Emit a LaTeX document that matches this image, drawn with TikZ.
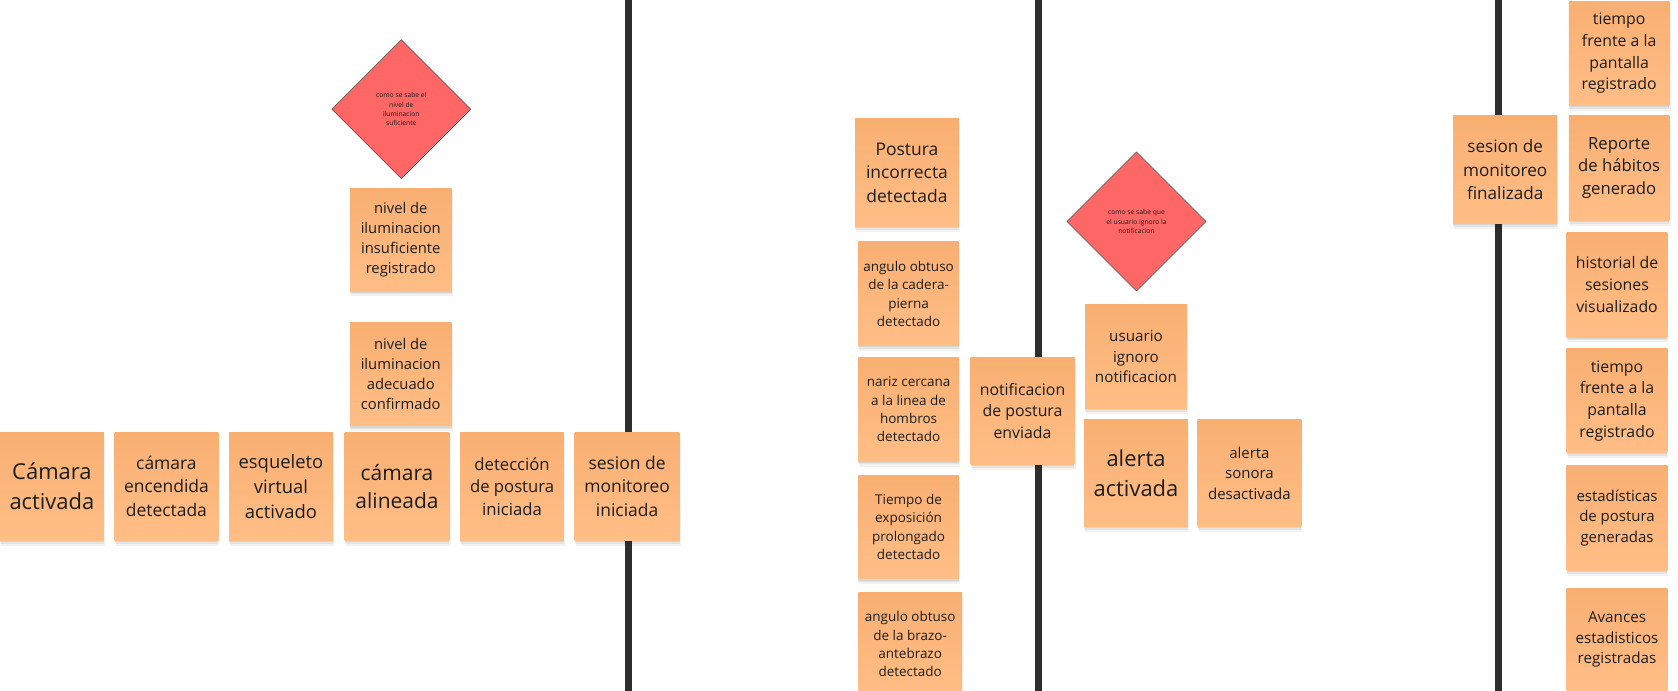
\documentclass[tikz,border=0pt]{standalone}
\usepackage{fontspec}
\setmainfont{Open Sans}
\usetikzlibrary{shapes.geometric}
\definecolor{stickytop}{HTML}{F9AF72}
\definecolor{stickybot}{HTML}{FFBE86}
\definecolor{ink}{HTML}{1C1C1C}
\definecolor{lane}{HTML}{2E2E2E}
\definecolor{qred}{HTML}{FF6666}
\tikzset{
  sticky/.style={rectangle, inner sep=0pt, top color=stickytop, bottom color=stickybot,
    draw=none, text=ink, align=center, minimum width=96pt, minimum height=98pt,
    preaction={fill=black, fill opacity=0.05, transform canvas={xshift=1pt, yshift=-5pt}},
    preaction={fill=black, fill opacity=0.06, transform canvas={yshift=-3pt}},
    preaction={fill=black, fill opacity=0.06, transform canvas={yshift=-1.5pt}}},
  sz/.style 2 args={minimum width=#1pt, minimum height=#2pt},
  fbig/.style={font=\fontsize{20.5}{28}\selectfont},
  fmed/.style={font=\fontsize{16.3}{22.3}\selectfont},
  fmid/.style={font=\fontsize{14.8}{20.2}\selectfont},
  fsml/.style={font=\fontsize{12.6}{17.2}\selectfont},
  question/.style={diamond, aspect=1, draw=black!70, line width=0.5pt, fill=qred,
    inner sep=0pt, minimum width=130pt, minimum height=130pt, align=center, text=ink,
    font=\fontsize{6.3}{8.6}\selectfont},
  lanebar/.style={draw=lane, line width=6.5pt}
}
\begin{document}
\begin{tikzpicture}[x=1pt,y=-1pt]
\useasboundingbox (0,0) rectangle (1568,645);
\fill[white] (0,0) rectangle (1568,645);
% swimlane dividers
\coordinate (l1t) at (587,-5); \coordinate (l1b) at (587,650);
\coordinate (l2t) at (970,-5); \coordinate (l2b) at (970,650);
\coordinate (l3t) at (1400,-5); \coordinate (l3b) at (1400,650);
\draw[lanebar] (l1t) -- (l1b);
\draw[lanebar] (l2t) -- (l2b);
\draw[lanebar] (l3t) -- (l3b);

% bottom row
\node[sticky, sz={97}{101}, fbig] (cam) at (48.5,454.5) {Cámara\\activada};
\node[sticky, sz={97}{101}, fmed] (camenc) at (155.5,454.5) {cámara\\encendida\\detectada};
\node[sticky, sz={97}{101}, font=\fontsize{17.2}{23.6}\selectfont] (esq) at (262.5,454.5) {esqueleto\\virtual\\activado};
\node[sticky, sz={98}{101}, font=\fontsize{19.6}{26.6}\selectfont] (camal) at (371,454.5) {cámara\\alineada};
\node[sticky, sz={97}{101}, font=\fontsize{15.6}{21.2}\selectfont] (det) at (478.5,454.5) {detección\\de postura\\iniciada};
\node[sticky, sz={98}{101}, fmed] (sesini) at (586,454.5) {sesion de\\monitoreo\\iniciada};

% lighting question
\node[question] (q1) at (375,102) {como se sabe el\\nivel de\\iluminacion\\suficiente};
\node[sticky, sz={95}{96}, font=\fontsize{13.8}{18.8}\selectfont] (insuf) at (374.5,224) {nivel de\\iluminacion\\insuficiente\\registrado};
\node[sticky, sz={95}{97}, font=\fontsize{13.8}{18.8}\selectfont] (adec) at (374.5,349.5) {nivel de\\iluminacion\\adecuado\\confirmado};

% posture detection lane
\node[sticky, sz={97}{101}, fmed] (post) at (847.5,161.5) {Postura\\incorrecta\\detectada};
\node[sticky, sz={94}{97}, fsml] (cadera) at (849,274.5) {angulo obtuso\\de la cadera-\\pierna\\detectado};
\node[sticky, sz={94}{97}, fsml] (nariz) at (849,382.5) {nariz cercana\\a la linea de\\hombros\\detectado};
\node[sticky, sz={94}{97}, fsml] (expo) at (849,492.5) {Tiempo de\\exposición\\prolongado\\detectado};
\node[sticky, sz={97}{96}, fsml] (brazo) at (850.5,602) {angulo obtuso\\de la brazo-\\antebrazo\\detectado};
\node[sticky, sz={97}{100}, fmid] (notif) at (955.5,384) {notificacion\\de postura\\enviada};

% notification lane
\node[question] (q2) at (1062,207) {como se sabe que\\el usuario ignoro la\\notificacion};
\node[sticky, sz={95}{97}, font=\fontsize{14.2}{19.2}\selectfont] (ignoro) at (1061.5,333.5) {usuario\\ignoro\\notificacion};
\node[sticky, sz={97}{100}, fbig] (alerta) at (1061.5,442) {alerta\\activada};
\node[sticky, sz={97}{100}, font=\fontsize{14}{19.2}\selectfont] (sonora) at (1167.5,442) {alerta\\sonora\\desactivada};

% end of session lane
\node[sticky, sz={97}{101}, font=\fontsize{16}{21.8}\selectfont] (sesfin) at (1406.5,158.5) {sesion de\\monitoreo\\finalizada};
\node[sticky, sz={94}{97}, fmid] (tiempo1) at (1513,50) {tiempo\\frente a la\\pantalla\\registrado};
\node[sticky, sz={94}{98}, font=\fontsize{15.6}{21.3}\selectfont] (reporte) at (1513,157) {Reporte\\de hábitos\\generado};
\node[sticky, sz={94}{98}, fmid] (hist) at (1511,266) {historial de\\sesiones\\visualizado};
\node[sticky, sz={94}{97}, fmid] (tiempo2) at (1511,374.5) {tiempo\\frente a la\\pantalla\\registrado};
\node[sticky, sz={94}{98}, font=\fontsize{14}{19.2}\selectfont] (estad) at (1511,484) {estadísticas\\de postura\\generadas};
\node[sticky, sz={94}{95}, font=\fontsize{14.2}{19.4}\selectfont] (avances) at (1511,597.5) {Avances\\estadisticos\\registradas};
\end{tikzpicture}
\end{document}
